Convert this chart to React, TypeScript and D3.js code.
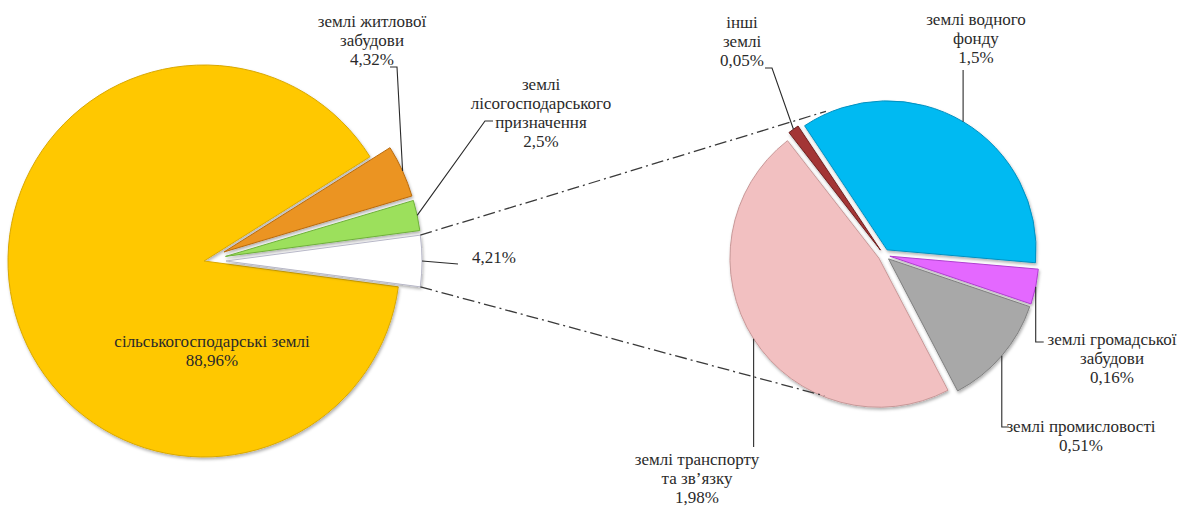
import React from 'react';
import * as d3 from 'd3';

// ---- data ----
const mainCategories = ['сільськогосподарські землі', 'землі житлової забудови', 'землі лісогосподарського призначення', 'інші'];
const mainValues = [88.96, 4.32, 2.5, 4.21];
const mainLabelLines = [['сільськогосподарські землі'], ['землі житлової', 'забудови'], ['землі', 'лісогосподарського', 'призначення'], []];

const detailCategories = ['землі водного фонду', 'землі громадської забудови', 'землі промисловості', "землі транспорту та зв'язку", 'інші землі'];
const detailValues = [1.5, 0.16, 0.51, 1.98, 0.05];
const detailLabelLines = [['землі водного', 'фонду'], ['землі громадської', 'забудови'], ['землі промисловості'], ['землі транспорту', 'та зв\u02BCязку'], ['інші', 'землі']];

// ---- styles / layout ----
const mainColors = ['#FFC800', '#EB9420', '#9CE05C', '#FFFFFF'];
const mainStrokes = ['#D9A800', '#B86A10', '#6FB03A', '#B8B8C8'];
const detailColors = ['#00BAF2', '#E468FF', '#A8A8A8', '#F2C0C1', '#A33434'];
const detailStrokes = ['#0090C0', '#B040D0', '#808080', '#C89898', '#702020'];

const W = 1185, H = 508;
const L = { cx: 204, cy: 261, r: 196, explode: 22 };
const R = { cx: 884, cy: 255, r: 149, explode: 6, start: -33.6 * Math.PI / 180 };
const FONT = "'Liberation Serif', 'Tinos', 'Times New Roman', serif";
const FS = 17;
const LH = 19;

const fmt = (v: number) => `${String(v).replace('.', ',')}%`;
const pt = (a: number, r: number): [number, number] => [Math.sin(a) * r, -Math.cos(a) * r];

export default function App() {
  // main pie: "other" slice (last) centred at 3 o'clock
  const total = d3.sum(mainValues);
  const before = d3.sum(mainValues.slice(0, -1));
  const lastV = mainValues[mainValues.length - 1];
  const sa = Math.PI / 2 - 2 * Math.PI * (before + lastV / 2) / total;
  const pieL = d3.pie<number>().sort(null).value(d => d).startAngle(sa).endAngle(sa + 2 * Math.PI);
  const arcsL = pieL(mainValues);
  const arcGen = d3.arc<any>().innerRadius(0);

  const pieR = d3.pie<number>().sort(null).value(d => d).startAngle(R.start).endAngle(R.start + 2 * Math.PI);
  const arcsR = pieR(detailValues);

  const offL = arcsL.map((a, i) => {
    if (i === 0) return [0, 0] as [number, number];
    return pt((a.startAngle + a.endAngle) / 2, L.explode);
  });
  const offR = arcsR.map(a => pt((a.startAngle + a.endAngle) / 2, R.explode));

  const outerL = (i: number): [number, number] => {
    const a = arcsL[i];
    const p = pt((a.startAngle + a.endAngle) / 2, L.r);
    return [L.cx + offL[i][0] + p[0], L.cy + offL[i][1] + p[1]];
  };
  const outerR = (i: number): [number, number] => {
    const a = arcsR[i];
    const p = pt((a.startAngle + a.endAngle) / 2, R.r);
    return [R.cx + offR[i][0] + p[0], R.cy + offR[i][1] + p[1]];
  };

  // connectors from the "other" slice to the detail pie
  const other = arcsL[3];
  const oc: [number, number] = [L.cx + offL[3][0], L.cy + offL[3][1]];
  const cTop0 = pt(other.startAngle, L.r);
  const cBot0 = pt(other.endAngle, L.r);
  const cTop1 = pt(-22 * Math.PI / 180, R.r + 6);
  const cBot1 = pt(203 * Math.PI / 180, R.r + 4);

  const line = d3.line();

  const o1 = outerL(1), o2 = outerL(2), o3 = outerL(3);
  const leadersL: [number, number][][] = [
    [],
    [o1, [397, 67], [390, 67]],
    [o2, [485, 121], [493, 121]],
    [o3, [458, 264]],
  ];
  const labelPosL = [
    { x: 212, y: 347, anchor: 'middle' },
    { x: 372, y: 27, anchor: 'middle' },
    { x: 541, y: 90, anchor: 'middle' },
    { x: 472, y: 263, anchor: 'start' },
  ];

  const r0 = outerR(0), r1 = outerR(1), r2 = outerR(2), r3 = outerR(3), r4 = outerR(4);
  const leadersR: [number, number][][] = [
    [r0, [r0[0], 70]],
    [r1, [r1[0], 342], [r1[0] + 8, 342]],
    [r2, [r2[0], 427], [r2[0] + 7, 427]],
    [r3, [r3[0], 447]],
    [r4, [772, 68], [765, 68]],
  ];
  const labelPosR = [
    { x: 976, y: 25, anchor: 'middle' },
    { x: 1112, y: 345, anchor: 'middle' },
    { x: 1081, y: 432, anchor: 'middle' },
    { x: 697, y: 465, anchor: 'middle' },
    { x: 742, y: 28, anchor: 'middle' },
  ];

  const renderLabel = (lines: string[], value: number, pos: any, key: string) => {
    const all = [...lines, fmt(value)];
    return (
      <text key={key} x={pos.x} y={pos.y} textAnchor={pos.anchor} style={{ fontFamily: FONT, fontSize: FS }} fill="#2a2a2a">
        {all.map((t, j) => (
          <tspan key={j} x={pos.x} dy={j === 0 ? 0 : LH}>{t}</tspan>
        ))}
      </text>
    );
  };

  return (
    <svg width={W} height={H} style={{ position: 'absolute', left: 0, top: 0, background: '#fff' }}>
      <defs>
        <filter id="sh" x="-20%" y="-20%" width="140%" height="140%">
          <feDropShadow dx="1" dy="2" stdDeviation="1.6" floodColor="#000" floodOpacity="0.3" />
        </filter>
      </defs>

      {/* left pie */}
      <g>
        {arcsL.map((a, i) => (
          <g key={i} transform={`translate(${L.cx + offL[i][0]},${L.cy + offL[i][1]})`}>
            <path d={arcGen.outerRadius(L.r)(a) as string} fill={mainColors[i]} stroke={mainStrokes[i]} strokeWidth={1} filter="url(#sh)" />
          </g>
        ))}
      </g>

      {/* right pie */}
      <g>
        {arcsR.map((a, i) => (
          <g key={i} transform={`translate(${R.cx + offR[i][0]},${R.cy + offR[i][1]})`}>
            <path d={arcGen.outerRadius(R.r)(a) as string} fill={detailColors[i]} stroke={detailStrokes[i]} strokeWidth={1} filter="url(#sh)" />
          </g>
        ))}
      </g>

      {/* connectors */}
      <g stroke="#3a3a3a" strokeWidth={1.3} strokeDasharray="12 4 2 4" fill="none">
        <path d={line([[oc[0] + cTop0[0], oc[1] + cTop0[1]], [R.cx + cTop1[0], R.cy + cTop1[1]]]) as string} />
        <path d={line([[oc[0] + cBot0[0], oc[1] + cBot0[1]], [R.cx + cBot1[0], R.cy + cBot1[1]]]) as string} />
      </g>

      {/* leaders */}
      <g stroke="#2a2a2a" strokeWidth={1.1} fill="none">
        {leadersL.filter(p => p.length).map((p, i) => <path key={'l' + i} d={line(p) as string} />)}
        {leadersR.map((p, i) => <path key={'r' + i} d={line(p) as string} />)}
      </g>

      {/* labels */}
      {mainValues.map((v, i) => renderLabel(mainLabelLines[i], v, labelPosL[i], 'ml' + i))}
      {detailValues.map((v, i) => renderLabel(detailLabelLines[i], v, labelPosR[i], 'dl' + i))}
    </svg>
  );
}
